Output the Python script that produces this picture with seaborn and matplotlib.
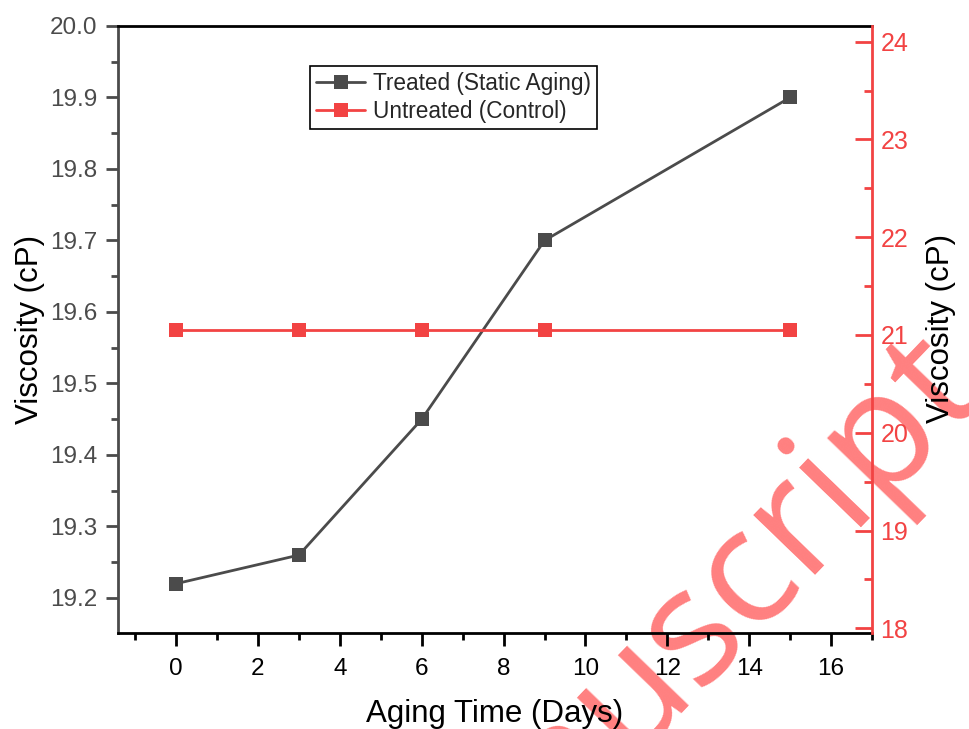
import matplotlib
matplotlib.use("Agg")
import matplotlib.pyplot as plt
import seaborn as sns
import pandas as pd
import numpy as np
from matplotlib.ticker import MultipleLocator
from matplotlib.textpath import TextPath
from matplotlib.font_manager import FontProperties

# ---- data ----
days = [0, 3, 6, 9, 15]
treated = [19.22, 19.26, 19.45, 19.70, 19.90]
untreated = [21.05, 21.05, 21.05, 21.05, 21.05]
label_treated = "Treated (Static Aging)"
label_untreated = "Untreated (Control)"
xtick_vals = [0, 2, 4, 6, 8, 10, 12, 14, 16]
xtick_labels = ["0", "2", "4", "6", "8", "10", "12", "14", "16"]
watermark = "manuscript"

sns.set_style("ticks")
plt.rcParams['font.family'] = ['Liberation Sans', 'DejaVu Sans']
plt.rcParams['xtick.labelsize'] = 17.5
plt.rcParams['ytick.labelsize'] = 17.5

GRAY = '#4b4b4b'
RED = '#f24343'

fig = plt.figure(figsize=(9.69, 7.29), dpi=100)
L, R, T, B = 118, 872, 26, 633
W, H = 969, 729
ax = fig.add_axes([L / W, 1 - B / H, (R - L) / W, (B - T) / H])
ax.set_facecolor('none')
ax2 = ax.twinx()
ax2.set_facecolor('none')

df_t = pd.DataFrame({"days": days, "visc": treated})
df_u = pd.DataFrame({"days": days, "visc": untreated})

sns.lineplot(data=df_t, x="days", y="visc", ax=ax, color=GRAY, lw=2,
             marker='s', markersize=10, markeredgewidth=0, label=label_treated,
             legend=False)
sns.lineplot(data=df_u, x="days", y="visc", ax=ax2, color=RED, lw=2,
             marker='s', markersize=10, markeredgewidth=0, label=label_untreated,
             legend=False)
ax2.xaxis.set_visible(False)

ax.set_xlim(-1.42, 17.0)
ax.set_ylim(19.151, 20.0)
ax2.set_ylim(17.952, 24.16)

ax.set_xticks(xtick_vals, xtick_labels, fontsize=17.5)
ax.xaxis.set_minor_locator(MultipleLocator(1))
ax.yaxis.set_major_locator(MultipleLocator(0.1))
ax.yaxis.set_minor_locator(MultipleLocator(0.05))
ax.yaxis.set_major_formatter(matplotlib.ticker.FormatStrFormatter('%.1f'))
ax2.yaxis.set_major_locator(MultipleLocator(1))
ax2.yaxis.set_minor_locator(MultipleLocator(0.5))

for s in ['top', 'bottom']:
    ax.spines[s].set_color('black')
    ax.spines[s].set_linewidth(2)
ax.spines['left'].set_color(GRAY)
ax.spines['left'].set_linewidth(2)
ax.spines['right'].set_visible(False)
for s in ['top', 'bottom', 'left']:
    ax2.spines[s].set_visible(False)
ax2.spines['right'].set_color(RED)
ax2.spines['right'].set_linewidth(2)

ax.tick_params(axis='x', which='major', direction='out', length=9, width=2,
               color='black', labelsize=17.5, labelcolor='black', pad=9)
ax.tick_params(axis='x', which='minor', direction='out', length=5, width=2, color='black')
ax.tick_params(axis='y', which='major', direction='out', length=9, width=2,
               color=GRAY, labelsize=17.5, labelcolor=GRAY, pad=6)
ax.tick_params(axis='y', which='minor', direction='out', length=5, width=2, color=GRAY)
ax2.tick_params(axis='y', which='major', direction='in', length=12, width=2,
                color=RED, labelsize=18, labelcolor=RED, pad=6)
ax2.tick_params(axis='y', which='minor', direction='in', length=6, width=2, color=RED)

ax.set_xlabel("Aging Time (Days)", fontsize=22.5, color='black')
ax.set_ylabel("Viscosity (cP)", fontsize=22.5, color='black')
ax2.set_ylabel("Viscosity (cP)", fontsize=22.5, color='black')
ax.xaxis.set_label_coords(0.5, -0.108)
ax.yaxis.set_label_coords(-0.097, 0.5)
ax2.yaxis.set_label_coords(1.071, 0.502)

h1, l1 = ax.get_legend_handles_labels()
h2, l2 = ax2.get_legend_handles_labels()
leg = ax2.legend(h1 + h2, l1 + l2, loc='upper left',
                 bbox_to_anchor=((310 - L) / (R - L), 1 - (66 - T) / (B - T)),
                 borderaxespad=0, fontsize=16.3, frameon=True, fancybox=False,
                 edgecolor='black', framealpha=1, handlelength=2.2,
                 handletextpad=0.35, borderpad=0.25, labelspacing=0.25)
leg.get_frame().set_linewidth(1.2)

# ---- watermark: place so the dot of the "i" sits where it is in the reference ----
WM_FAMILY = ['Open Sans', 'DejaVu Sans']
WM_SIZE = 116
WM_ROT = 46
fp = FontProperties(family=WM_FAMILY, size=WM_SIZE)
tp = TextPath((0, 0), watermark, prop=fp)
best = None
for pg in tp.to_polygons():
    xs, ys = pg[:, 0], pg[:, 1]
    area = (xs.max() - xs.min()) * (ys.max() - ys.min())
    if ys.min() > 0.4 * WM_SIZE and (best is None or area < best[0]):
        best = (area, xs.mean(), ys.mean())
k = fig.dpi / 72.0
dx, dy = best[1] * k, best[2] * k
th = np.deg2rad(WM_ROT)
rx = dx * np.cos(th) - dy * np.sin(th)
ry = dx * np.sin(th) + dy * np.cos(th)
target_x, target_y = 783, H - 436
ox, oy = target_x - rx, target_y - ry
fig.text(ox / W, oy / H, watermark, fontsize=WM_SIZE, family=WM_FAMILY,
         color='#ff8080', rotation=WM_ROT, ha='left', va='baseline',
         rotation_mode='anchor', zorder=-5)

fig.savefig("out.png", dpi=100)
